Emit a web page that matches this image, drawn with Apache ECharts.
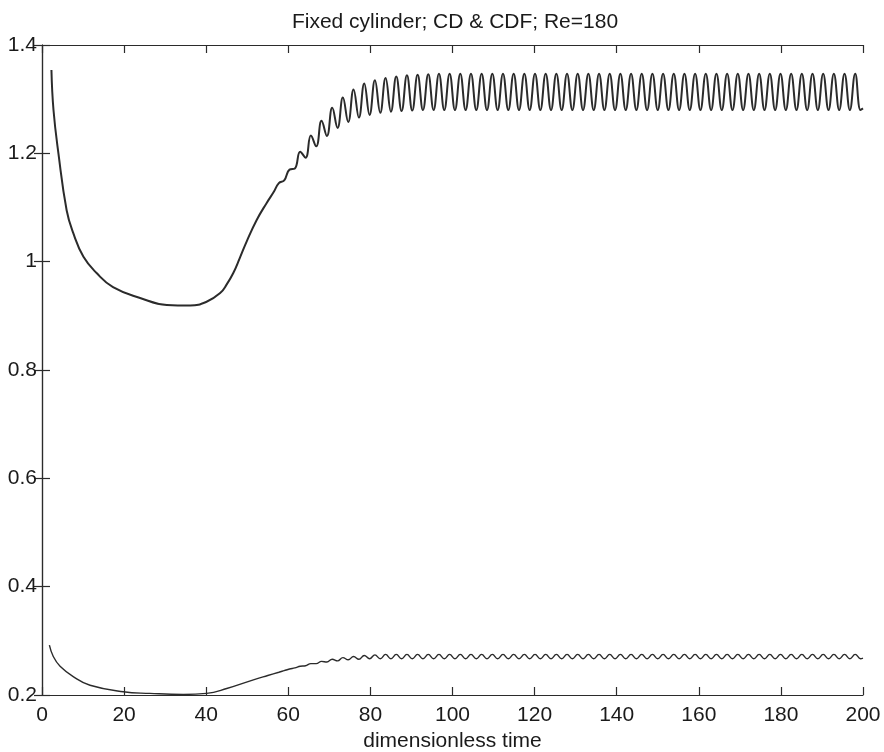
<!DOCTYPE html>
<html>
<head>
<meta charset="utf-8">
<script src="https://cdn.jsdelivr.net/npm/echarts@6/dist/echarts.min.js"></script>
<style>
html,body{margin:0;padding:0;background:#fff;}
#chart{width:884px;height:752px;}
</style>
</head>
<body>
<div id="chart"></div>
<script>
// ---- Data ----
// CD, smooth transient part
var cdTime = [2.3, 2.8, 4.0, 6.0, 7.6, 10.1, 13.3, 17.3, 23.9, 30.4, 36.1, 40.1, 43.4, 45.0, 46.6, 48.2, 49.9, 52.3, 54.7, 56.4];
var cdValue = [1.354, 1.28, 1.2, 1.095, 1.053, 1.009, 0.979, 0.953, 0.933, 0.920, 0.919, 0.926, 0.942, 0.958, 0.979, 1.007, 1.038, 1.077, 1.108, 1.128];

// CDF, smooth transient part
var cdfTime = [1.8, 2.75, 4.4, 7.6, 11.7, 19.8, 26.3, 34.4, 40.1, 45.0, 51.5, 55.0];
var cdfValue = [0.292, 0.271, 0.253, 0.234, 0.218, 0.206, 0.203, 0.201, 0.203, 0.212, 0.228, 0.236];

// times of the read peaks / troughs in the oscillating part
var oscTime = [57.7, 59.0, 60.3, 61.6, 62.9, 64.2, 65.5, 66.8, 68.1, 69.4, 70.7, 72.0, 73.3, 74.6, 75.9, 77.2, 78.5, 79.8,
  81.1, 82.4, 83.7, 85.0, 86.3, 87.6, 88.9, 90.2, 91.5, 92.8, 94.1, 95.4, 96.7, 98.0, 99.3, 100.6, 101.9, 103.2,
  104.5, 105.8, 107.1, 108.4, 109.7, 111.0, 112.3, 113.6, 114.9, 116.2, 117.5, 118.8, 120.1, 121.4, 122.7, 124.0,
  125.3, 126.6, 127.9, 129.2, 130.5, 131.8, 133.1, 134.4, 135.7, 137.0, 138.3, 139.6, 140.9, 142.2, 143.5, 144.8,
  146.1, 147.4, 148.7, 150.0, 151.3, 152.6, 153.9, 155.2, 156.5, 157.8, 159.1, 160.4, 161.7, 163.0, 164.3, 165.6,
  166.9, 168.2, 169.5, 170.8, 172.1, 173.4, 174.7, 176.0, 177.3, 178.6, 179.9, 181.2, 182.5, 183.8, 185.1, 186.4,
  187.7, 189.0, 190.3, 191.6, 192.9, 194.2, 195.5, 196.8, 198.1, 199.4, 200.0];

var cdOsc = [1.145, 1.150, 1.170, 1.172, 1.203, 1.192, 1.233, 1.213, 1.260, 1.232, 1.284, 1.247, 1.303, 1.258, 1.318, 1.266, 1.329, 1.271,
  1.335, 1.275, 1.339, 1.277, 1.342, 1.278, 1.344, 1.279, 1.345, 1.280, 1.346, 1.280, 1.347, 1.280, 1.347, 1.280, 1.347, 1.280,
  1.347, 1.280, 1.347, 1.280, 1.347, 1.280, 1.347, 1.280, 1.347, 1.280, 1.347, 1.280, 1.347, 1.280, 1.347, 1.280,
  1.347, 1.280, 1.347, 1.280, 1.347, 1.280, 1.347, 1.280, 1.347, 1.280, 1.347, 1.280, 1.347, 1.280, 1.347, 1.280,
  1.347, 1.280, 1.347, 1.280, 1.347, 1.280, 1.347, 1.280, 1.347, 1.280, 1.347, 1.280, 1.347, 1.280, 1.347, 1.280,
  1.347, 1.280, 1.347, 1.280, 1.347, 1.280, 1.347, 1.280, 1.347, 1.280, 1.347, 1.280, 1.347, 1.280, 1.347, 1.280,
  1.347, 1.280, 1.347, 1.280, 1.347, 1.280, 1.347, 1.280, 1.347, 1.280, 1.283];

var cdfOsc = [0.242, 0.245, 0.248, 0.250, 0.253, 0.254, 0.258, 0.258, 0.262, 0.261, 0.266, 0.263, 0.269, 0.265, 0.271, 0.266, 0.273, 0.267,
  0.274, 0.267, 0.275, 0.267, 0.275, 0.267, 0.275, 0.267, 0.275, 0.267, 0.275, 0.267, 0.275, 0.267, 0.275, 0.267, 0.275, 0.267,
  0.275, 0.267, 0.275, 0.267, 0.275, 0.267, 0.275, 0.267, 0.275, 0.267, 0.275, 0.267, 0.275, 0.267, 0.275, 0.267,
  0.275, 0.267, 0.275, 0.267, 0.275, 0.267, 0.275, 0.267, 0.275, 0.267, 0.275, 0.267, 0.275, 0.267, 0.275, 0.267,
  0.275, 0.267, 0.275, 0.267, 0.275, 0.267, 0.275, 0.267, 0.275, 0.267, 0.275, 0.267, 0.275, 0.267, 0.275, 0.267,
  0.275, 0.267, 0.275, 0.267, 0.275, 0.267, 0.275, 0.267, 0.275, 0.267, 0.275, 0.267, 0.275, 0.267, 0.275, 0.267,
  0.275, 0.267, 0.275, 0.267, 0.275, 0.267, 0.275, 0.267, 0.275, 0.267, 0.268];

var xTicks = [0, 20, 40, 60, 80, 100, 120, 140, 160, 180, 200];
var yTicks = [0.2, 0.4, 0.6, 0.8, 1, 1.2, 1.4];

var titleText = 'Fixed cylinder; CD & CDF; Re=180';
var xName = 'dimensionless time';

// ---- build series ----
function zip(t, v) { var out = []; for (var i = 0; i < t.length; i++) out.push([t[i], v[i]]); return out; }
var cdData = zip(cdTime, cdValue).concat(zip(oscTime, cdOsc));
var cdfData = zip(cdfTime, cdfValue).concat(zip(oscTime, cdfOsc));

var ink = '#2b2b2b';
var font = 'Liberation Sans, Arial, sans-serif';

var chart = echarts.init(document.getElementById('chart'), null, {renderer: 'canvas'});
function axisCommon(showLabels) {
  return {
    axisLine: {show: true, lineStyle: {color: ink, width: 1.2}},
    axisTick: {show: true, inside: true, length: 8, lineStyle: {color: ink, width: 1.2}},
    splitLine: {show: false},
    axisLabel: {show: showLabels, color: '#1a1a1a', fontSize: 21, fontFamily: font}
  };
}
var xMain = Object.assign(axisCommon(true), {
  type: 'value', min: xTicks[0], max: xTicks[xTicks.length - 1], interval: xTicks[1] - xTicks[0], position: 'bottom',
  name: xName, nameLocation: 'middle', nameGap: 33,
  nameTextStyle: {color: '#1a1a1a', fontSize: 21, fontFamily: font}
});
xMain.axisLabel.margin = 10;
var xTop = Object.assign(axisCommon(false), {
  type: 'value', min: xTicks[0], max: xTicks[xTicks.length - 1], interval: xTicks[1] - xTicks[0], position: 'top'
});
var yMain = Object.assign(axisCommon(true), {
  type: 'value', min: yTicks[0], max: yTicks[yTicks.length - 1], interval: 0.2, position: 'left'
});
yMain.axisLabel.margin = 5;
yMain.axisLabel.formatter = function (v) { return String(+v.toFixed(1)); };
var yRight = Object.assign(axisCommon(false), {
  type: 'value', min: yTicks[0], max: yTicks[yTicks.length - 1], interval: 0.2, position: 'right'
});

chart.setOption({
  animation: false,
  backgroundColor: '#ffffff',
  title: {
    text: titleText, left: 450, top: 7, textAlign: 'center',
    textStyle: {color: '#1a1a1a', fontSize: 21, fontWeight: 'normal', fontFamily: font}
  },
  grid: {left: 42, right: 21, top: 45, bottom: 57, containLabel: false, outerBoundsMode: 'none'},
  xAxis: [xMain, xTop],
  yAxis: [yMain, yRight],
  series: [
    {type: 'line', name: 'CD', data: cdData, xAxisIndex: 0, yAxisIndex: 0, showSymbol: false, symbol: 'none',
     smooth: 0.45, lineStyle: {color: ink, width: 2}},
    {type: 'line', name: 'CDF', data: cdfData, xAxisIndex: 0, yAxisIndex: 0, showSymbol: false, symbol: 'none',
     smooth: 0.45, lineStyle: {color: ink, width: 1.4}}
  ]
});
</script>
</body>
</html>
